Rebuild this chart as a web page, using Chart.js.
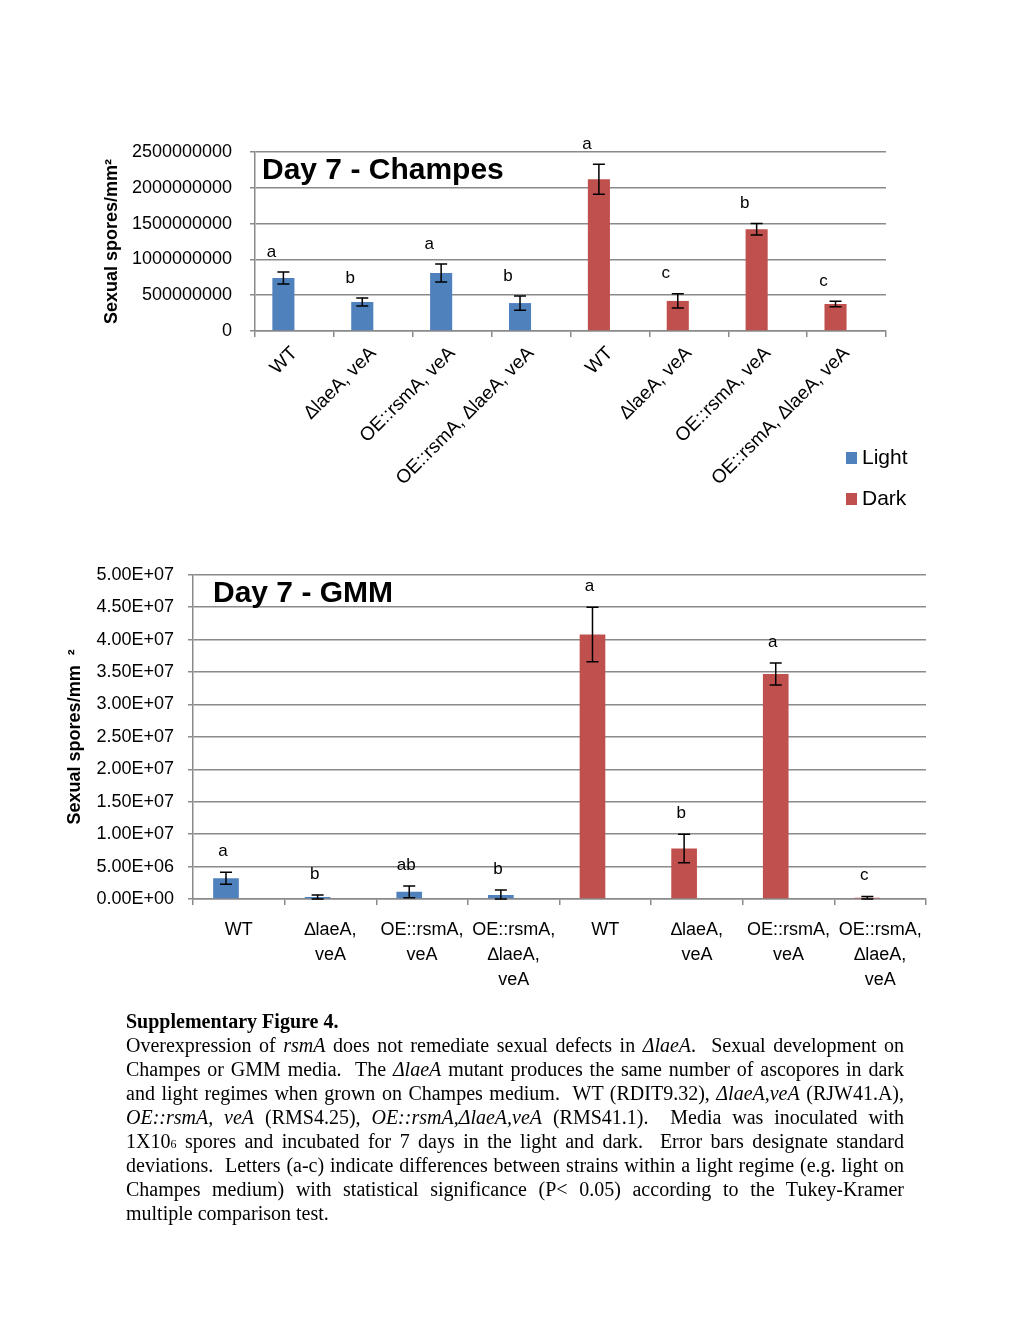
<!DOCTYPE html>
<html>
<head>
<meta charset="utf-8">
<script src="https://cdn.jsdelivr.net/npm/chart.js@4.4.1/dist/chart.umd.min.js"></script>
<style>
  body { margin: 0; background: #fff; }
  #page { position: relative; width: 1024px; height: 1325px; }
  canvas { position: absolute; left: 0; }
  #champesChart { top: 0; }
  #gmmChart { top: 550px; }
  #caption {
    position: absolute; left: 126px; top: 1009px; width: 778px;
    font-family: "Liberation Serif", "Times New Roman", serif;
    font-size: 20px; line-height: 24px; color: #000;
  }
  #caption div { height: 24px; white-space: nowrap; }
  #caption .j { text-align: justify; text-align-last: justify; }
  #caption small { font-size: 12px; line-height: 0; }
</style>
</head>
<body>
<div id="page">
  <canvas id="champesChart" width="1024" height="540"></canvas>
  <canvas id="gmmChart" width="1024" height="460"></canvas>
  <div id="caption">
    <div><b>Supplementary Figure 4.</b></div>
    <div class="j">Overexpression of <i>rsmA</i> does not remediate sexual defects in <i>ΔlaeA</i>.&nbsp; Sexual development on</div>
    <div class="j">Champes or GMM media.&nbsp; The <i>ΔlaeA</i> mutant produces the same number of ascopores in dark</div>
    <div class="j">and light regimes when grown on Champes medium.&nbsp; WT (RDIT9.32), <i>ΔlaeA,veA</i> (RJW41.A),</div>
    <div class="j"><i>OE::rsmA, veA</i> (RMS4.25), <i>OE::rsmA,ΔlaeA,veA</i> (RMS41.1).&nbsp; Media was inoculated with</div>
    <div class="j">1X10<small>6</small> spores and incubated for 7 days in the light and dark.&nbsp; Error bars designate standard</div>
    <div class="j">deviations.&nbsp; Letters (a-c) indicate differences between strains within a light regime (e.g. light on</div>
    <div class="j">Champes medium) with statistical significance (P&lt; 0.05) according to the Tukey-Kramer</div>
    <div>multiple comparison test.</div>
  </div>
</div>
<script>
// strains, same order for light and dark
const strains = ['WT', '∆laeA, veA', 'OE::rsmA, veA', 'OE::rsmA, ∆laeA, veA'];
const strainsStacked = [['WT'], ['∆laeA,', 'veA'], ['OE::rsmA,', 'veA'], ['OE::rsmA,', '∆laeA,', 'veA']];
const champesLabels = strains.concat(strains);
const gmmLabels = strainsStacked.concat(strainsStacked);

// Day 7 - Champes (spores / mm2)
const champesLight = [740000000, 405000000, 810000000, 390000000, null, null, null, null];
const champesLightSd = [85000000, 56000000, 125000000, 100000000, null, null, null, null];
const champesDark = [null, null, null, null, 2120000000, 420000000, 1420000000, 377000000];
const champesDarkSd = [null, null, null, null, 210000000, 100000000, 80000000, 40000000];
const champesLetters = ['a', 'b', 'a', 'b', 'a', 'c', 'b', 'c'];
const champesTicks = ['0', '500000000', '1000000000', '1500000000', '2000000000', '2500000000'];

// Day 7 - GMM (spores / mm2)
const gmmLight = [3200000, 300000, 1100000, 600000, null, null, null, null];
const gmmLightSd = [920000, 300000, 900000, 800000, null, null, null, null];
const gmmDark = [null, null, null, null, 40800000, 7800000, 34700000, 200000];
const gmmDarkSd = [null, null, null, null, 4200000, 2200000, 1700000, 200000];
const gmmLetters = ['a', 'b', 'ab', 'b', 'a', 'b', 'a', 'c'];
const gmmTicks = ['0.00E+00', '5.00E+06', '1.00E+07', '1.50E+07', '2.00E+07', '2.50E+07',
                  '3.00E+07', '3.50E+07', '4.00E+07', '4.50E+07', '5.00E+07'];

const BLUE = '#4F81BD';
const RED = '#C0504D';
const GRID = '#8a8a8a';
const FONT = '"Liberation Sans", Arial, sans-serif';

// error bars, significance letters, panel title and legend
const barExtras = {
  id: 'barExtras',
  afterDatasetsDraw(chart, args, opts) {
    const ctx = chart.ctx;
    const y = chart.scales.y;
    ctx.save();
    ctx.strokeStyle = '#000';
    ctx.fillStyle = '#000';
    ctx.lineWidth = 1.5;
    ctx.font = '17px ' + FONT;
    ctx.textAlign = 'center';
    ctx.textBaseline = 'middle';
    chart.data.datasets.forEach((ds, di) => {
      if (!ds.sd) return;
      chart.getDatasetMeta(di).data.forEach((bar, i) => {
        const v = ds.data[i];
        if (v === null) return;
        const hi = y.getPixelForValue(v + ds.sd[i]);
        const lo = Math.min(y.getPixelForValue(v - ds.sd[i]), y.bottom);
        ctx.beginPath();
        ctx.moveTo(bar.x, hi); ctx.lineTo(bar.x, lo);
        ctx.moveTo(bar.x - opts.cap, hi); ctx.lineTo(bar.x + opts.cap, hi);
        ctx.moveTo(bar.x - opts.cap, lo); ctx.lineTo(bar.x + opts.cap, lo);
        ctx.stroke();
        ctx.fillText(opts.letters[i], bar.x + opts.letterDx, hi - opts.letterLift);
      });
    });

    ctx.font = 'bold 30px ' + FONT;
    ctx.textAlign = 'left';
    ctx.fillText(opts.title, chart.chartArea.left + opts.titleDx, chart.chartArea.top + 19);

    if (opts.legend) {
      ctx.font = '21px ' + FONT;
      let ly = opts.legend.y;
      chart.data.datasets.forEach(ds => {
        if (!ds.sd) return;
        ctx.fillStyle = ds.backgroundColor;
        ctx.fillRect(opts.legend.x, ly - 6, 11, 12);
        ctx.fillStyle = '#000';
        ctx.fillText(ds.label, opts.legend.x + 16, ly);
        ly += 41;
      });
    }
    ctx.restore();
  }
};

const makeDatasets = (light, lightSd, dark, darkSd) => [
  { label: 'Light', data: light, sd: lightSd, backgroundColor: BLUE, stack: 'main' },
  { label: 'Dark', data: dark, sd: darkSd, backgroundColor: RED, stack: 'main' },
  // empty neighbour stack, keeps each bar on the left half of its category like the original
  { label: '', data: light.map(() => null), backgroundColor: 'transparent', stack: 'spare' }
];

const makeOptions = (cfg) => ({
  responsive: false,
  animation: false,
  categoryPercentage: 0.56,
  barPercentage: 1,
  layout: { padding: cfg.padding },
  scales: {
    x: {
      grid: { drawOnChartArea: false, color: GRID, lineWidth: 1.5, tickLength: 6 },
      border: { color: GRID, width: 1.5 },
      ticks: {
        color: '#000',
        autoSkip: false,
        minRotation: cfg.rotation,
        maxRotation: cfg.rotation,
        padding: cfg.xPad,
        font: { family: FONT, size: cfg.xFont, lineHeight: 1.4 }
      },
      afterFit: (scale) => { scale.height = cfg.xHeight; }
    },
    y: {
      stacked: true,
      min: 0,
      max: cfg.max,
      ticks: {
        stepSize: cfg.step,
        color: '#000',
        padding: cfg.yPad,
        font: { family: FONT, size: 18 },
        callback: (value, index) => cfg.ticks[index]
      },
      grid: { color: GRID, lineWidth: 1.5, tickLength: 5 },
      border: { color: GRID, width: 1.5 },
      title: {
        display: true,
        text: cfg.yTitle,
        color: '#000',
        padding: 0,
        font: { family: FONT, size: 18, weight: 'bold' }
      },
      afterFit: (scale) => { scale.width = cfg.yWidth; }
    }
  },
  plugins: {
    legend: { display: false },
    tooltip: { enabled: false },
    barExtras: cfg.extras
  }
});

const champesChart = new Chart(document.getElementById('champesChart'), {
  type: 'bar',
  data: { labels: champesLabels, datasets: makeDatasets(champesLight, champesLightSd, champesDark, champesDarkSd) },
  options: makeOptions({
    padding: { left: 101, top: 152, right: 138, bottom: 0 },
    rotation: 45, xPad: 4, xHeight: 209, xFont: 19,
    max: 2500000000, step: 500000000, ticks: champesTicks, yPad: 18, yWidth: 154,
    yTitle: 'Sexual spores/mm²',
    extras: { cap: 6, letters: champesLetters, letterDx: -12, letterLift: 20,
              title: 'Day 7 - Champes', titleDx: 7, legend: { x: 846, y: 458 } }
  }),
  plugins: [barExtras]
});

const gmmChart = new Chart(document.getElementById('gmmChart'), {
  type: 'bar',
  data: { labels: gmmLabels, datasets: makeDatasets(gmmLight, gmmLightSd, gmmDark, gmmDarkSd) },
  options: makeOptions({
    padding: { left: 64, top: 22, right: 98, bottom: 0 },
    rotation: 0, xPad: 12, xHeight: 111, xFont: 18,
    max: 50000000, step: 5000000, ticks: gmmTicks, yPad: 14, yWidth: 129,
    yTitle: 'Sexual spores/mm  ²',
    extras: { cap: 6, letters: gmmLetters, letterDx: -3, letterLift: 21,
              title: 'Day 7 - GMM', titleDx: 20, legend: null }
  }),
  plugins: [barExtras]
});
</script>
</body>
</html>
